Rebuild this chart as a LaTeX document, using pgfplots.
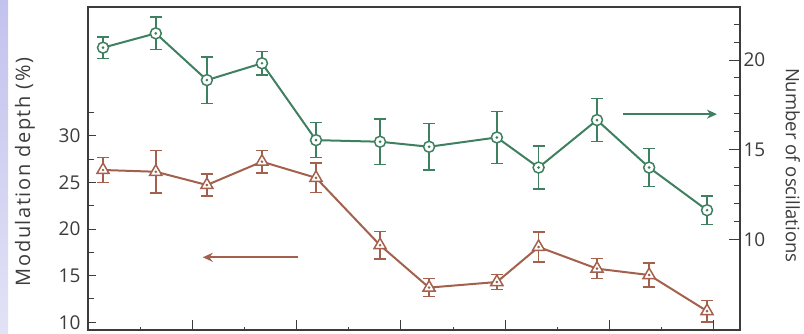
\documentclass[border=0pt]{standalone}
\usepackage{fontspec}
\setmainfont{Open Sans}
\usepackage{pgfplots}
\pgfplotsset{compat=1.18}
\usetikzlibrary{arrows.meta}

\definecolor{oscgreen}{RGB}{62,128,95}
\definecolor{modbrown}{RGB}{163,97,77}
\definecolor{axisgray}{RGB}{60,60,60}

% open circle / open triangle, each with a small dot in the middle
\pgfdeclareplotmark{circdot}{%
  \pgfpathcircle{\pgfpointorigin}{\pgfplotmarksize}\pgfusepathqfillstroke
  \pgfpathcircle{\pgfpointorigin}{0.4pt}\pgfusepathqstroke}
\pgfdeclareplotmark{tridot}{%
  \pgfpathmoveto{\pgfqpoint{0pt}{\pgfplotmarksize}}%
  \pgfpathlineto{\pgfqpointpolar{210}{\pgfplotmarksize}}%
  \pgfpathlineto{\pgfqpointpolar{-30}{\pgfplotmarksize}}%
  \pgfpathclose\pgfusepathqfillstroke
  \pgfpathcircle{\pgfpointorigin}{0.4pt}\pgfusepathqstroke}

% x  depth(%)  error
\pgfplotstableread{
x     y      e
0.144 26.34  1.36
0.650 26.15  2.30
1.140 24.73  1.16
1.668 27.23  1.20
2.186 25.50  1.60
2.800 18.27  1.47
3.270 13.72  0.95
3.920 14.32  0.80
4.320 18.08  1.60
4.880 15.75  1.07
5.380 15.07  1.30
5.935 11.20  1.16
}\depthdata

% x  oscillations  error
\pgfplotstableread{
x     y      e
0.144 20.69  0.60
0.650 21.49  0.90
1.140 18.88  1.30
1.668 19.82  0.65
2.186 15.53  0.97
2.800 15.44  1.28
3.270 15.16  1.30
3.920 15.68  1.46
4.320 14.00  1.20
4.880 16.65  1.20
5.380 14.00  1.05
5.935 11.62  0.80
}\oscdata

\newcommand{\lblfont}{\fontsize{19}{22}\selectfont}

\pgfplotsset{
  common/.style={
    scale only axis, width=652pt, height=323pt,
    at={(88pt,3pt)}, anchor=south west,
    xmin=0, xmax=6.251,
    axis line style={-, axisgray, line width=1.2pt},
    tick style={axisgray, line width=1pt},
    tick align=inside,
    ticklabel style={font=\lblfont, text=axisgray},
    /pgf/number format/assume math mode=true,
    label style={font=\lblfont, text=axisgray},
  },
  series/.style={
    #1, line width=2pt,
    mark options={fill=white, line width=1.5pt, solid},
    error bars/.cd, y dir=both, y explicit,
    error bar style={#1, line width=1.5pt},
    error mark options={#1, rotate=90, mark size=6pt, line width=1.5pt},
    /pgfplots/.cd,
  },
}

\begin{document}
\begin{tikzpicture}
\useasboundingbox (0,0) rectangle (804pt,333pt);
\shade[top color={rgb,255:red,194;green,194;blue,238}, bottom color={rgb,255:red,226;green,226;blue,246}]
  (0,0) rectangle (8pt,333pt);

% frame and x ticks
\begin{axis}[common, ymin=0, ymax=1, ytick=\empty,
  xtick={1,...,6}, minor xtick={0.5,1.5,...,5.5}, xticklabels={},
  xtick pos=bottom, major tick length=10pt, minor tick length=3.5pt]
\end{axis}

% modulation depth, left scale
\begin{axis}[common, hide x axis, axis y line*=left,
  ymin=9.17, ymax=43.83,
  ytick={10,15,20,25,30}, minor ytick={12.5,17.5,22.5,27.5,32.5},
  major tick length=8pt, minor tick length=6pt,
  yticklabel style={xshift=-4pt},
  ylabel={Modulation depth (\%)},
  ylabel style={at={(axis description cs:-0.0966,0.489)}, anchor=center,
    font=\fontsize{20}{23}\selectfont\addfontfeature{LetterSpace=8}}]
\addplot[series=modbrown, mark=tridot, mark size=7pt]
  table[x=x, y=y, y error=e] {\depthdata};
\draw[modbrown, line width=2pt, -{Stealth[length=10pt, width=9pt]}]
  (axis cs:2.01,16.97) -- (axis cs:1.10,16.97);
\end{axis}

% number of oscillations, right scale
\begin{axis}[common, hide x axis, axis y line*=right,
  ymin=4.933, ymax=22.96,
  ytick={10,15,20}, minor ytick={11,12,13,14,16,17,18,19,21,22},
  major tick length=11pt, minor tick length=6pt,
  ylabel={Number of oscillations},
  ylabel style={at={(axis description cs:1.081,0.51)}, anchor=center, rotate=180,
    font=\fontsize{18.5}{22}\selectfont}]
\addplot[series=oscgreen, mark=circdot, mark size=5.5pt]
  table[x=x, y=y, y error=e] {\oscdata};
\draw[oscgreen, line width=2pt, -{Stealth[length=10pt, width=9pt]}]
  (axis cs:5.13,16.98) -- (axis cs:6.03,16.98);
\end{axis}
\end{tikzpicture}
\end{document}
